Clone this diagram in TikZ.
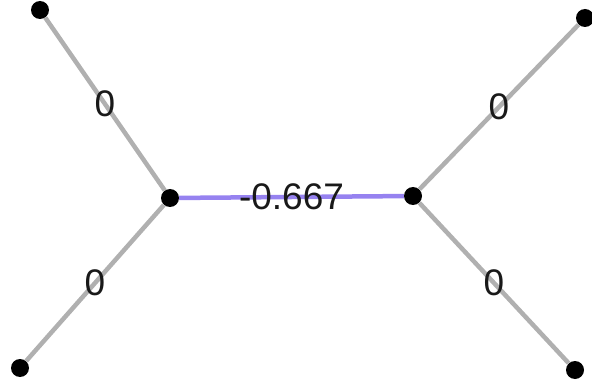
\documentclass[tikz,border=0pt]{standalone}
\usepackage{fontspec}
\setmainfont{Liberation Sans}
\definecolor{edgegray}{RGB}{176,176,176}
\definecolor{edgepurple}{RGB}{150,130,240}
\definecolor{labeltext}{RGB}{25,25,25}
\begin{document}
\begin{tikzpicture}[x=1pt,y=-1pt,
  dot/.style={circle,fill=black,minimum size=18pt,inner sep=0pt},
  grayedge/.style={draw=edgegray,line width=4.5pt},
  purpleedge/.style={draw=edgepurple,line width=4.5pt},
  elabel/.style={font=\fontsize{37}{37}\selectfont,text=labeltext,inner sep=0pt}]
\useasboundingbox (0,0) rectangle (592,385);
\node[dot] (tl) at (40,10) {};
\node[dot] (bl) at (20,368) {};
\node[dot] (lc) at (170,198) {};
\node[dot] (rc) at (413,196) {};
\node[dot] (tr) at (585,18) {};
\node[dot] (br) at (575,370) {};
\path[grayedge] (tl) -- node[elabel] {0} (lc);
\path[grayedge] (bl) -- node[elabel] {0} (lc);
\path[grayedge] (rc) -- node[elabel] {0} (tr);
\path[grayedge] (rc) -- node[elabel] {0} (br);
\path[purpleedge] (lc) -- node[elabel] {-0.667} (rc);
\end{tikzpicture}
\end{document}
